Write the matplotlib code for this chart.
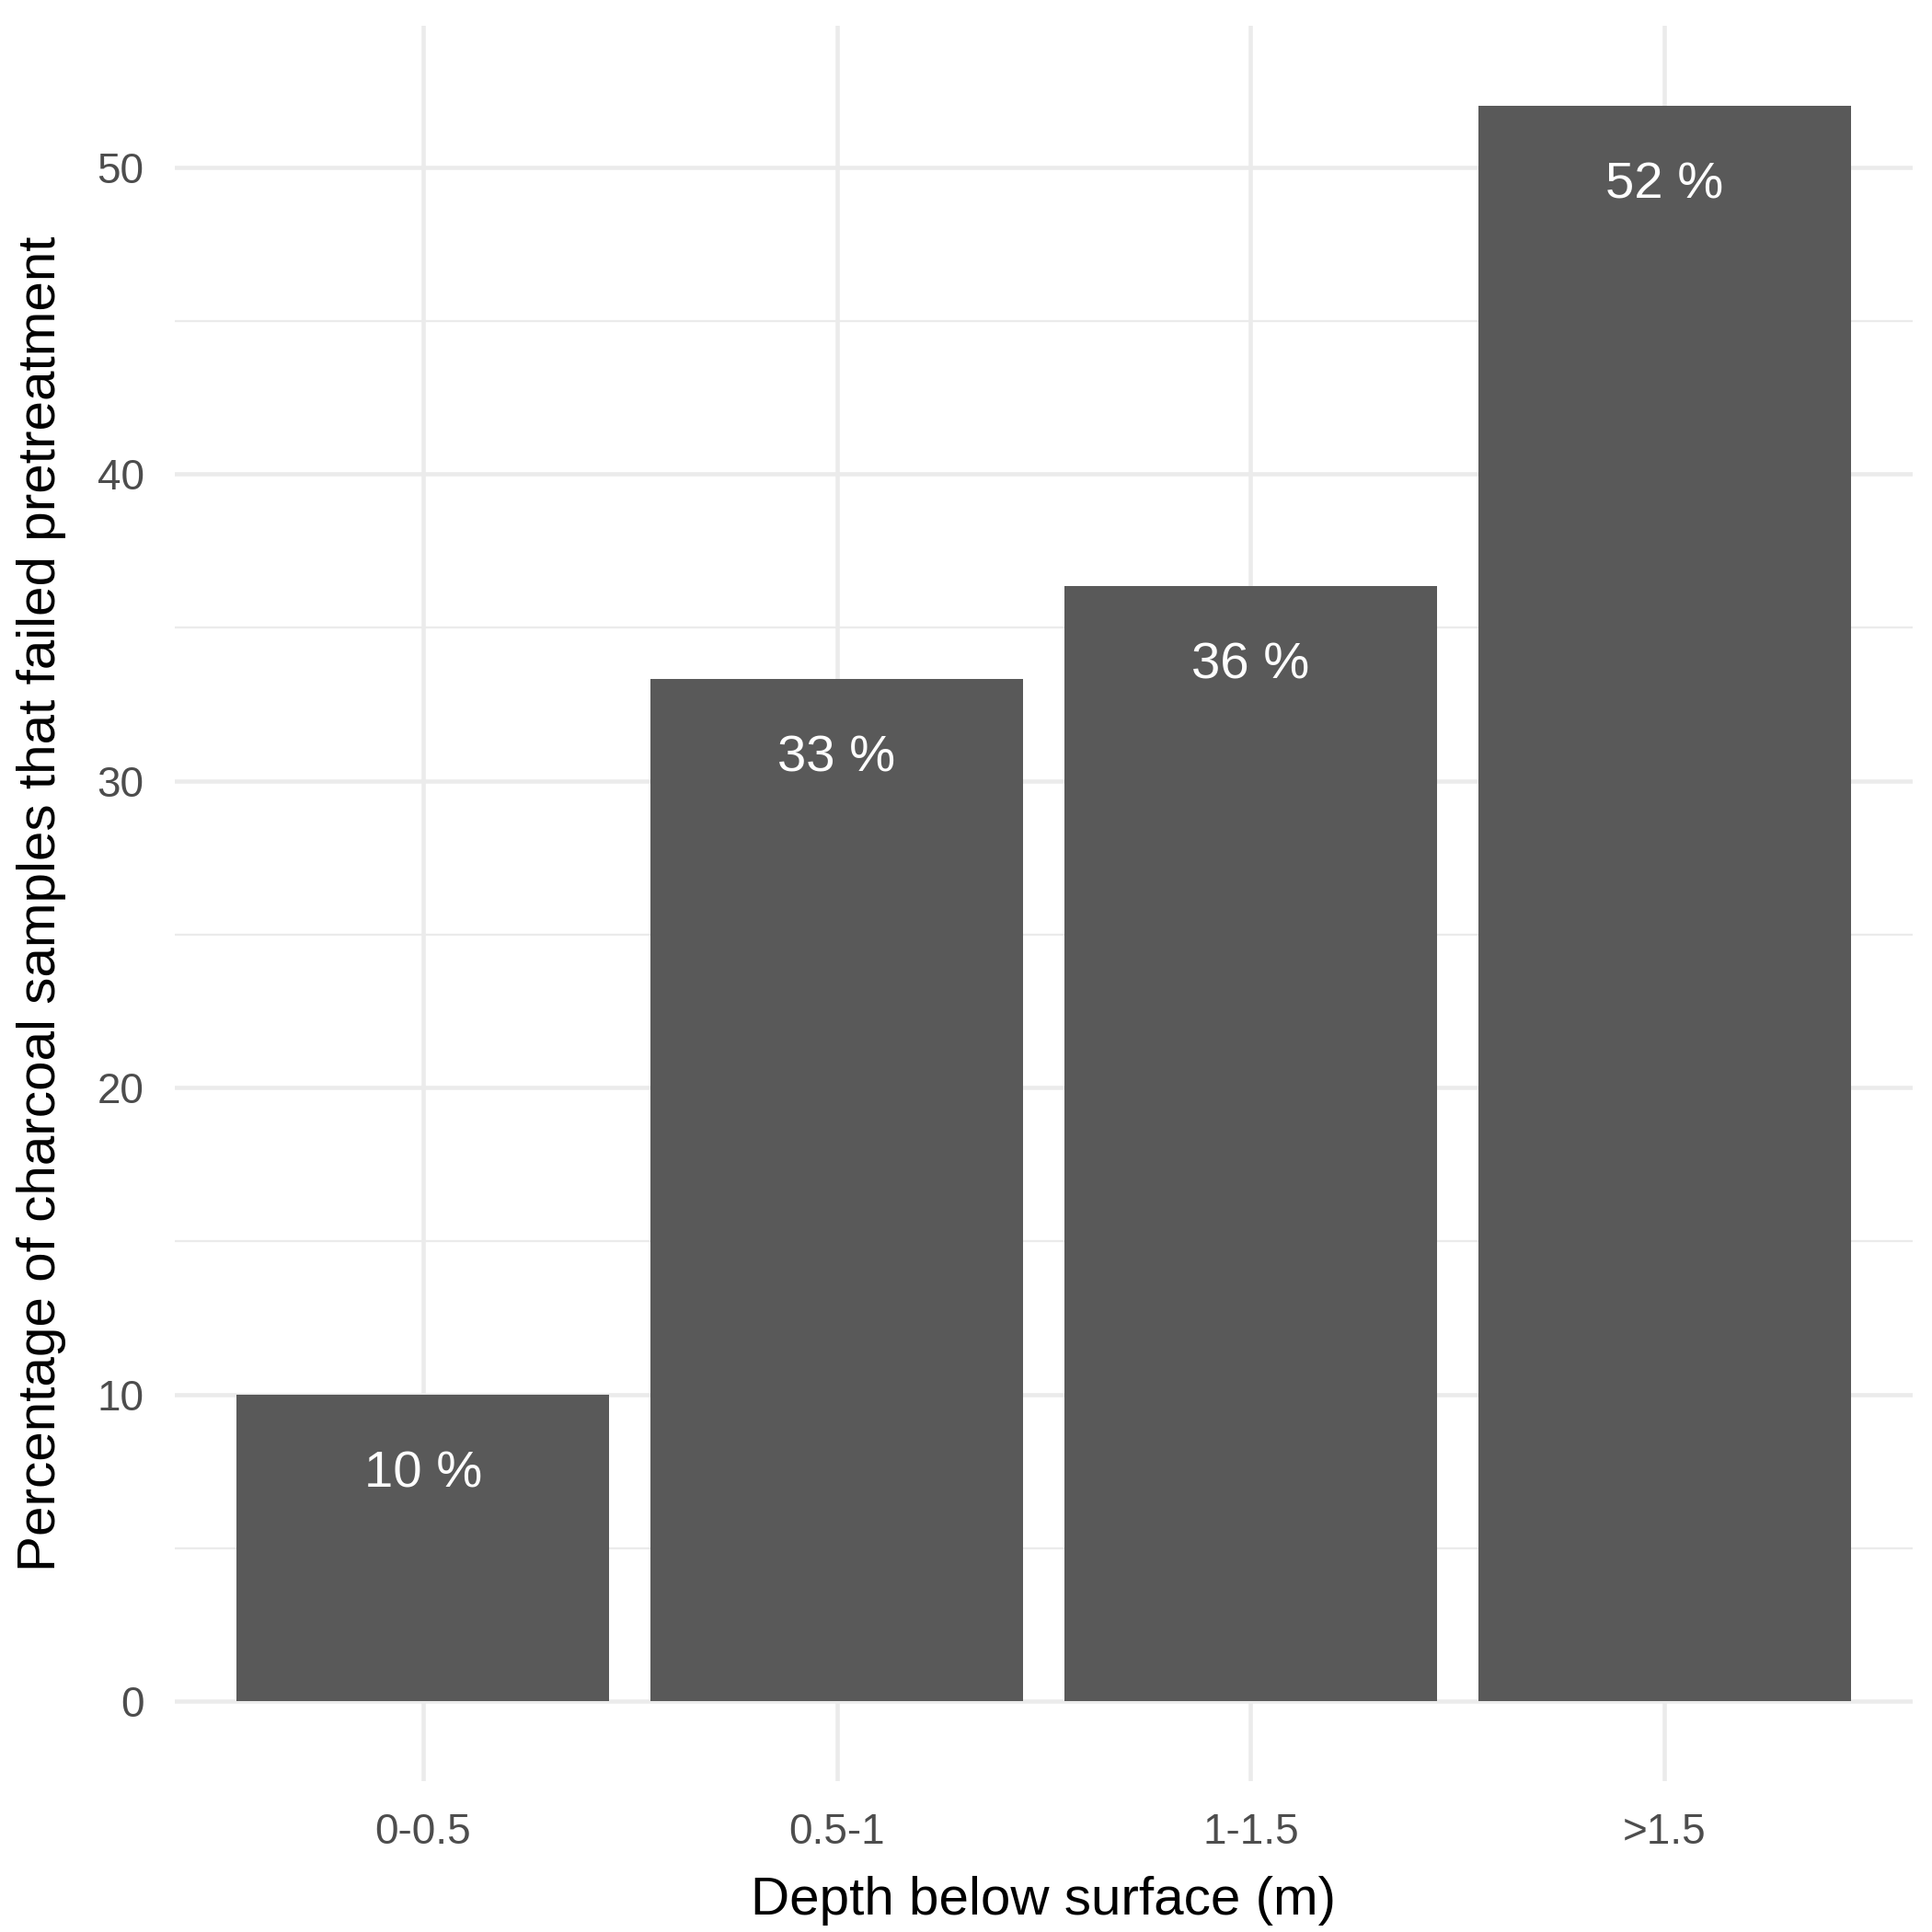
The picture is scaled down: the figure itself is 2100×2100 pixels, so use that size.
import matplotlib
matplotlib.use("Agg")
import matplotlib.pyplot as plt

categories = ["0-0.5", "0.5-1", "1-1.5", ">1.5"]
values = [10.0, 33.33, 36.36, 52.0]
labels = ["10 %", "33 %", "36 %", "52 %"]

plt.rcParams['font.family'] = ['Liberation Sans', 'DejaVu Sans']
fig = plt.figure(figsize=(7, 7), dpi=300)
ax = fig.add_axes([0.0904, 0.078, 0.8996, 0.9085])
x = list(range(len(categories)))
ax.bar(x, values, width=0.9, color="#595959", zorder=3)
for xi, v, l in zip(x, values, labels):
    ax.text(xi, v - 2.6, l, ha="center", va="center", color="white", fontsize=13.5, zorder=4)
ax.set_xlim(-0.6, 3.6)
ax.set_ylim(-2.6, 54.6)
ax.set_xticks(x)
ax.set_xticklabels(categories)
ax.set_yticks([0, 10, 20, 30, 40, 50])
ax.set_yticks([5, 15, 25, 35, 45], minor=True)
ax.grid(True, which="major", color="#EBEBEB", lw=1.1, zorder=0)
ax.grid(True, which="minor", axis="y", color="#EBEBEB", lw=0.55, zorder=0)
for s in ax.spines.values():
    s.set_visible(False)
ax.tick_params(which="both", length=0, labelsize=11, labelcolor="#4D4D4D", pad=8)
ax.set_xlabel("Depth below surface (m)", fontsize=14, labelpad=6)
ax.set_ylabel("Percentage of charcoal samples that failed pretreatment", fontsize=14, labelpad=8)
fig.savefig("out.png", dpi=300)
